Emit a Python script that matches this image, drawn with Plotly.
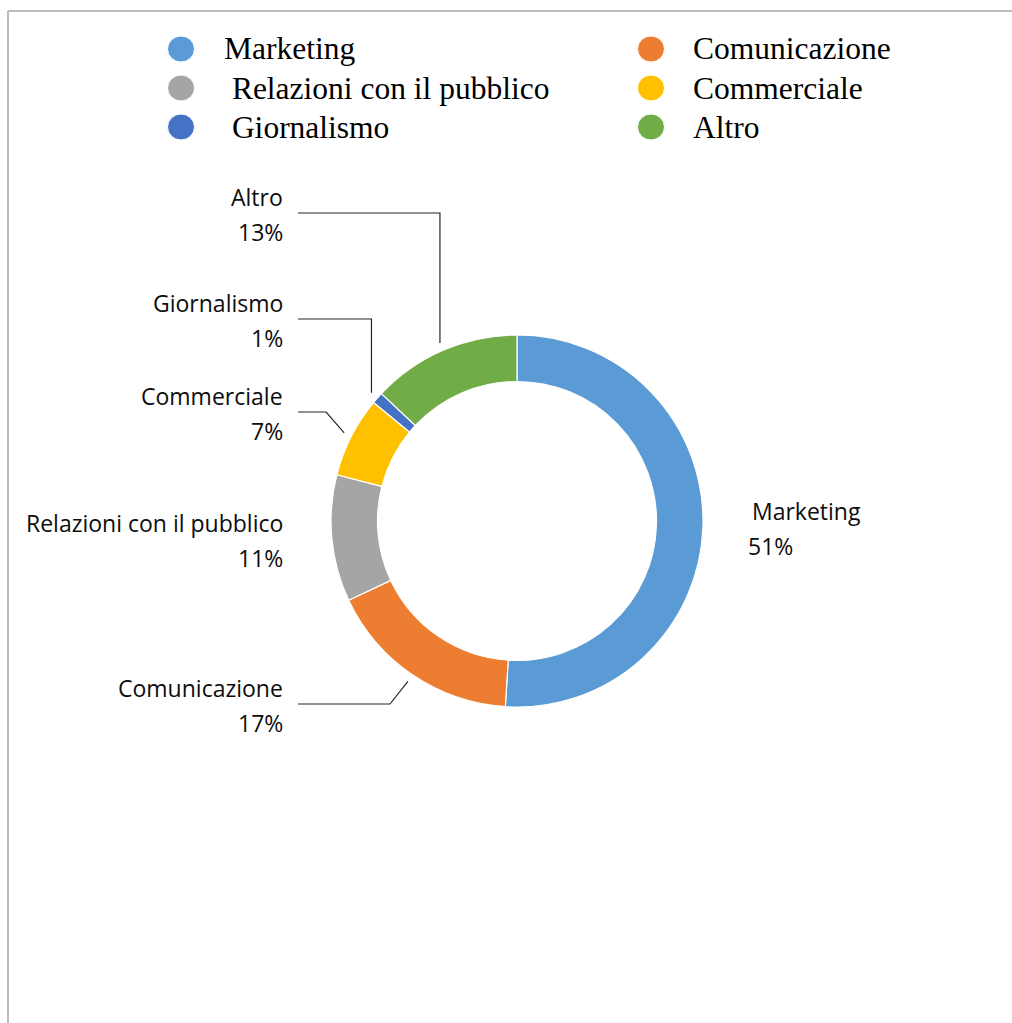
import math
import plotly.graph_objects as go

# Job areas and their share of respondents (%)
categories = ["Marketing", "Comunicazione", "Relazioni con il pubblico",
              "Commerciale", "Giornalismo", "Altro"]
shares = [51, 17, 11, 7, 1, 13]
colors = ["#5B9BD5", "#ED7D31", "#A5A5A5", "#FFC000", "#4472C4", "#70AD47"]
legend_texts = ["Marketing", "Comunicazione", " Relazioni con il pubblico",
                "Commerciale", " Giornalismo", "Altro"]

W, H = 1012, 1023
CX, CY, R_OUT = 517, 521, 186
HOLE = 0.75


def px(x):
    return x / W


def py(y):
    return 1 - y / H


fig = go.Figure()
fig.add_trace(go.Pie(
    labels=categories,
    values=shares,
    hole=HOLE,
    sort=False,
    direction="clockwise",
    rotation=0,
    textinfo="none",
    hoverinfo="label+percent",
    marker=dict(colors=colors, line=dict(color="white", width=1.2)),
    domain=dict(x=[px(CX - R_OUT), px(CX + R_OUT)],
                y=[py(CY + R_OUT), py(CY - R_OUT)]),
    showlegend=False,
))

shapes = []
annotations = []

# Frame lines (top and left)
line_col = "#A6A6A6"
shapes.append(dict(type="line", xref="paper", yref="paper",
                   x0=px(8), x1=px(W), y0=py(11), y1=py(11),
                   line=dict(color=line_col, width=1.5)))
shapes.append(dict(type="line", xref="paper", yref="paper",
                   x0=px(8), x1=px(8), y0=py(11), y1=py(H),
                   line=dict(color=line_col, width=1.5)))

# Legend: two columns, three rows, filled round markers
leg_font = dict(family="Liberation Serif, Times New Roman, serif", size=31.5, color="#000000")
leg_cols = [(181, 222), (651, 691)]
leg_rows = [49, 88, 127]
for i, (name, col) in enumerate(zip(legend_texts, colors)):
    mx, tx = leg_cols[i % 2]
    my = leg_rows[i // 2]
    shapes.append(dict(type="circle", xref="paper", yref="paper",
                       x0=px(mx - 13.5), x1=px(mx + 13.5),
                       y0=py(my + 13), y1=py(my - 13),
                       fillcolor=col, line=dict(color="white", width=1)))
    annotations.append(dict(xref="paper", yref="paper", x=px(tx), y=py(my),
                            xanchor="left", yanchor="middle", showarrow=False,
                            text=name.replace(" ", "&nbsp;", 1) if name.startswith(" ") else name,
                            font=leg_font))

# Data labels around the ring
lab_font = dict(family="Open Sans, sans-serif", size=23, color="#0D0D0D")
# category -> (x of text edge, y of first line, side, leader style)
label_pos = {
    "Marketing": (750, 511, "right", None),
    "Comunicazione": (285, 688, "left", "diagonal"),
    "Relazioni con il pubblico": (285, 523, "left", None),
    "Commerciale": (285, 396, "left", "diagonal"),
    "Giornalismo": (285, 303, "left", "vertical"),
    "Altro": (285, 197, "left", "vertical"),
}

total = sum(shares)
cum = 0.0
for name, v in zip(categories, shares):
    theta = 2 * math.pi * (cum + v / 2) / total
    cum += v
    lx, ly, side, leader = label_pos[name]
    anchor = "right" if side == "left" else "left"
    annotations.append(dict(xref="paper", yref="paper", x=px(lx), y=py(ly),
                            xanchor=anchor, yanchor="middle", showarrow=False,
                            text=name, font=lab_font))
    annotations.append(dict(xref="paper", yref="paper",
                            x=px(lx - (4 if side == "right" else 0)), y=py(ly + 35),
                            xanchor=anchor, yanchor="middle", showarrow=False,
                            text=f"{v}%", font=lab_font))
    if leader:
        r_end = R_OUT + 8
        ex = CX + r_end * math.sin(theta)
        ey = CY - r_end * math.cos(theta)
        hy = ly + 16
        bx = ex if leader == "vertical" else ex - 18
        path = (f"M {px(298)} {py(hy)} L {px(bx)} {py(hy)} L {px(ex)} {py(ey)}")
        shapes.append(dict(type="path", xref="paper", yref="paper", path=path,
                           line=dict(color="#262626", width=1.2)))

fig.update_layout(
    width=W, height=H,
    margin=dict(l=0, r=0, t=0, b=0),
    paper_bgcolor="white",
    plot_bgcolor="white",
    shapes=shapes,
    annotations=annotations,
)

fig.write_html("out.html")
